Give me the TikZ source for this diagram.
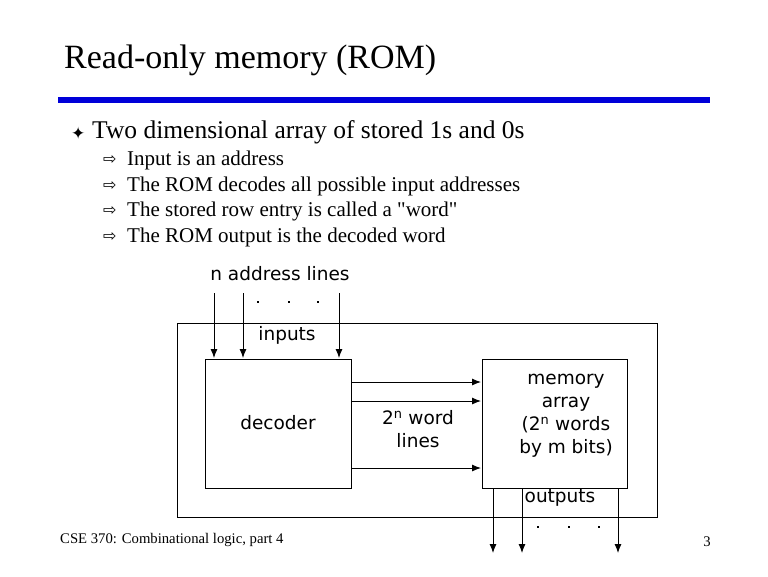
\documentclass[tikz,border=0pt]{standalone}
\usepackage{fontspec}
\setmainfont{Liberation Serif}
\newfontfamily\dsans{DejaVu Sans}
\usetikzlibrary{arrows.meta}
\begin{document}
\begin{tikzpicture}[x=1pt,y=-1pt,
  box/.style={draw,line width=0.9pt,inner sep=0},
  arr/.style={line width=0.9pt,-{Latex[length=9pt,width=7pt]}},
  dg/.style={font=\dsans\fontsize{18.5}{23}\selectfont},
  sub/.style={anchor=west,font=\fontsize{21}{23}\selectfont,inner sep=0},
  dot/.style={fill,inner sep=0,minimum size=2.5pt}]
\useasboundingbox (0,0) rectangle (768,576);
\node[anchor=west,inner sep=0,font=\fontsize{34}{36}\selectfont] (title) at (64,60) {Read-only memory (ROM)};
\fill[blue!85!black] (58,97) rectangle (710,103);
\node[anchor=west,inner sep=0,font=\dsans\fontsize{17}{19}\selectfont] (b0) at (71,133) {✦};
\node[anchor=west,inner sep=0,font=\fontsize{25.5}{27}\selectfont] (t0) at (92,132) {Two dimensional array of stored 1s and 0s};
\foreach \y/\t [count=\i] in {160/Input is an address,186/The ROM decodes all possible input addresses,211/{The stored row entry is called a \textquotedbl word\textquotedbl},237/The ROM output is the decoded word}{
  \node[anchor=west,inner sep=0,font=\dsans\fontsize{16}{18}\selectfont] (a\i) at (103,\y) {⇨};
  \node[sub] (s\i) at (127,\y) {\t};
}
\node[box,minimum width=480,minimum height=194,anchor=north west] (outer) at (177,323) {};
\node[box,minimum width=146,minimum height=129,anchor=north west] (dec) at (205,359) {};
\node[dg] (dect) at (278,423) {decoder};
\node[box,minimum width=145,minimum height=129,anchor=north west] (mem) at (482,359) {};
\node[dg,align=center,inner sep=0] (memt) at (566,416) {memory\\array\\(2\textsuperscript{n} words\\by m bits)};
\node[dg] (addr) at (280,274) {n address lines};
\node[dg] (inp) at (287,335) {inputs};
\node[dg] (outp) at (560,498) {outputs};
\node[dg,align=center,inner sep=0] (wl) at (418,429) {2\textsuperscript{n} word\\lines};
\foreach \x [count=\i] in {214,243,339}{
  \coordinate (ii\i) at (\x,293);
  \draw[arr] (ii\i) -- (\x,358);
}
\foreach \x [count=\i] in {493,522,618}{
  \coordinate (oo\i) at (\x,553);
  \draw[arr] (\x,488) -- (oo\i);
}
\foreach \y in {382,401,468}{
  \draw[arr] (351,\y) -- (481,\y);
}
\foreach \x [count=\i] in {258,289,318}{\node[dot] (dt\i) at (\x,302) {};}
\foreach \x [count=\i] in {538,569,599}{\node[dot] (db\i) at (\x,527) {};}
\node[anchor=west,inner sep=0,font=\fontsize{14.7}{16}\selectfont] (foot) at (60,540) {CSE 370: Combinational logic, part 4};
\node[inner sep=0,font=\fontsize{14.7}{16}\selectfont] (pg) at (707,542) {3};
\end{tikzpicture}
\end{document}
